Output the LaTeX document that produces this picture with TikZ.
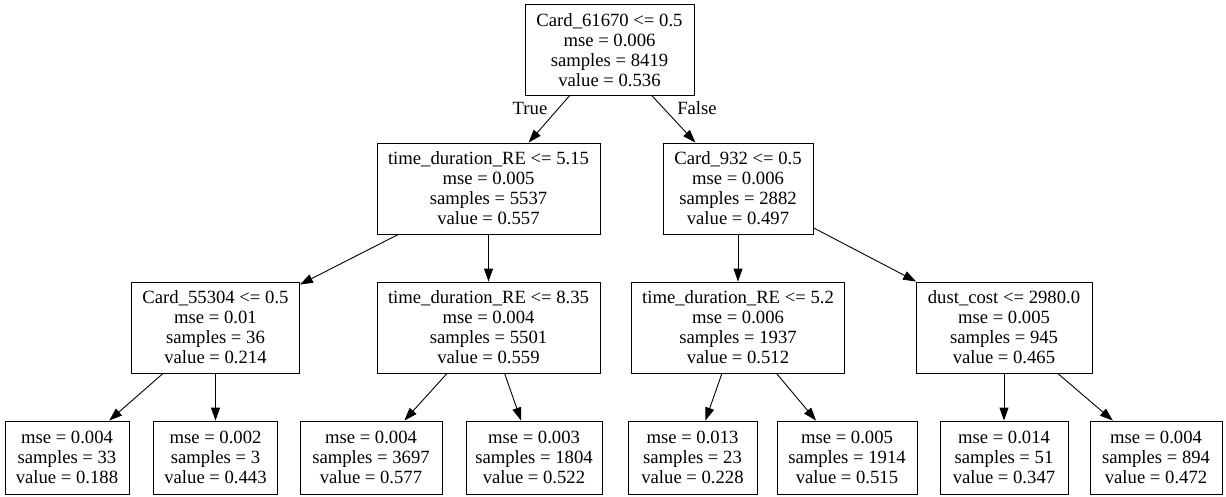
\documentclass[tikz,border=0pt]{standalone}
\usepackage{fontspec}
\setmainfont{Liberation Serif}
\usetikzlibrary{arrows.meta}

\tikzset{
  splitbox/.style={draw, line width=0.9pt, rectangle, minimum width=#1,
    minimum height=91pt, inner sep=2pt, align=center,
    font=\fontsize{18.67}{20}\selectfont},
  leafbox/.style={splitbox=#1, minimum height=73pt},
  branch/.style={-{Triangle[length=13pt,width=9pt]}, line width=0.9pt},
  lbl/.style={font=\fontsize{18.67}{20}\selectfont}
}

\begin{document}
\begin{tikzpicture}[x=1pt,y=-1pt]
    \useasboundingbox (0,0) rectangle (1226,497);

    % 根节点与第一层
    \node[splitbox=169pt] (root) at (609.5,50) {Card\_61670 <= 0.5\\mse = 0.006\\samples = 8419\\value = 0.536};
    \node[splitbox=223pt] (tdA) at (488.5,188.5) {time\_duration\_RE <= 5.15\\mse = 0.005\\samples = 5537\\value = 0.557};
    \node[splitbox=150pt] (cardB) at (738,188.5) {Card\_932 <= 0.5\\mse = 0.006\\samples = 2882\\value = 0.497};

    % 第二层
    \node[splitbox=168pt] (cardC) at (215.5,327.5) {Card\_55304 <= 0.5\\mse = 0.01\\samples = 36\\value = 0.214};
    \node[splitbox=223pt] (tdC) at (488.5,327.5) {time\_duration\_RE <= 8.35\\mse = 0.004\\samples = 5501\\value = 0.559};
    \node[splitbox=213pt] (tdD) at (738,327.5) {time\_duration\_RE <= 5.2\\mse = 0.006\\samples = 1937\\value = 0.512};
    \node[splitbox=176pt] (dust) at (1004,327.5) {dust\_cost <= 2980.0\\mse = 0.005\\samples = 945\\value = 0.465};

    % 叶节点
    \node[leafbox=124pt] (leafA) at (67,457.5) {mse = 0.004\\samples = 33\\value = 0.188};
    \node[leafbox=124pt] (leafB) at (215.5,457.5) {mse = 0.002\\samples = 3\\value = 0.443};
    \node[leafbox=142pt] (leafC) at (371,457.5) {mse = 0.004\\samples = 3697\\value = 0.577};
    \node[leafbox=136pt] (leafD) at (534,457.5) {mse = 0.003\\samples = 1804\\value = 0.522};
    \node[leafbox=129pt] (leafE) at (692.5,457.5) {mse = 0.013\\samples = 23\\value = 0.228};
    \node[leafbox=140pt] (leafF) at (847,457.5) {mse = 0.005\\samples = 1914\\value = 0.515};
    \node[leafbox=128pt] (leafG) at (1004,457.5) {mse = 0.014\\samples = 51\\value = 0.347};
    \node[leafbox=132pt] (leafH) at (1156,457.5) {mse = 0.004\\samples = 894\\value = 0.472};

    \node[lbl] (lblT) at (530,108) {True};
    \node[lbl] (lblF) at (697,108) {False};

    % 连线
    \draw[branch] (root) -- (tdA);
    \draw[branch] (root) -- (cardB);
    \draw[branch] (tdA) -- (cardC);
    \draw[branch] (tdA) -- (tdC);
    \draw[branch] (cardB) -- (tdD);
    \draw[branch] (cardB) -- (dust);
    \draw[branch] (cardC) -- (leafA);
    \draw[branch] (cardC) -- (leafB);
    \draw[branch] (tdC) -- (leafC);
    \draw[branch] (tdC) -- (leafD);
    \draw[branch] (tdD) -- (leafE);
    \draw[branch] (tdD) -- (leafF);
    \draw[branch] (dust) -- (leafG);
    \draw[branch] (dust) -- (leafH);
\end{tikzpicture}
\end{document}
